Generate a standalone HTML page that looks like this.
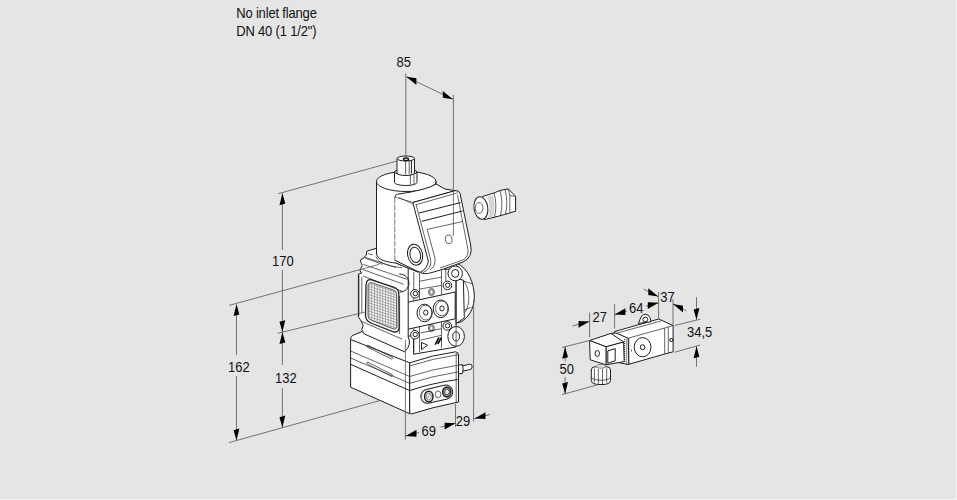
<!DOCTYPE html>
<html><head><meta charset="utf-8">
<style>
html,body{margin:0;padding:0;background:#e5e5e5;width:957px;height:500px;overflow:hidden}
svg{display:block}
text{font-family:"Liberation Sans",sans-serif;font-size:13px;fill:#111}
.o{fill:#fff;stroke:#1e1e1e;stroke-width:1;stroke-linejoin:round}
.w{fill:#fff;stroke:none}
.l{fill:none;stroke:#222;stroke-width:.7}
.t{fill:none;stroke:#1e1e1e;stroke-width:1}
.d{fill:none;stroke:#555;stroke-width:.8}
.a{fill:#000;stroke:none}
</style></head><body>
<svg width="957" height="500" viewBox="0 0 957 500">
<defs>
<pattern id="mesh" width="2.75" height="2.75" patternUnits="userSpaceOnUse" patternTransform="skewY(17) rotate(0)">
<rect width="2.75" height="2.75" fill="#f4f4f4"/>
<path d="M0,0H2.75M0,0V2.75" stroke="#6a6a6a" stroke-width="1"/>
</pattern>
</defs>
<text transform="translate(236.2,17.7) scale(1,1.1)" letter-spacing="-0.17">No inlet flange</text>
<text transform="translate(236.2,35.7) scale(1,1.1)" letter-spacing="-0.17">DN 40 (1 1/2")</text>
<rect x="956" y="0" width="1" height="500" fill="#f2f2f2"/>
<rect x="0" y="499" width="957" height="1" fill="#f2f2f2"/>
<g id="main">
<!-- round side body -->
<path class="o" d="M456,263 C468,267 474.5,284 474.3,297 C474,309 469,317 461,322 L456,323 Z"/>
<path class="l" d="M463.4,280.2 C469.5,288 471,302 465.2,312.6"/>

<!-- base box -->
<path class="w" d="M350.6,339.5 Q350.6,335.5 355,334.5 L400,321 L458.5,329 L458.5,354 Q458,351.5 455.5,351.8 Q432,355 409.7,362.8 Z"/>
<path class="t" d="M350.6,339.5 Q350.6,335.5 355,334.5 L362,331.5"/>
<path class="o" d="M350.6,339.5 L409.7,362.8 L409.7,413.7 L350.6,387.2 Z"/>
<path class="o" d="M409.7,362.8 Q432,355 455.5,351.8 Q458.5,352 458.5,355 L458.5,402 Q433,407 411.5,413.9 Q409.7,414 409.7,412 Z"/>
<path class="l" d="M350.6,351 L409.7,376.5 M350.6,358 L409.7,383.3 M409.7,366 Q432,358.5 457.75,354.75 M409.7,376.5 Q432,369 457.75,365.25 M409.7,383.3 Q432,376 457.75,372"/>
<path class="t" d="M350.6,364.3 L409.7,390.6 Q432,383 457.75,379.5"/>
<path class="l" d="M367.4,345 L391.9,357 Q393.5,358.5 391.9,359.2 L367.4,347.2 Q366,346 367.4,345 Z M367.4,362 L391.9,374.4 Q393.5,375.9 391.9,376.6 L367.4,364.2 Q366,363 367.4,362 Z"/>
<path class="l" d="M456.2,353 V402.5"/>
<!-- connector port -->
<rect class="o" x="420.6" y="387.2" width="32.4" height="14" rx="7" transform="rotate(-13 436.8 394.2)" stroke-width="1.1"/>
<path d="M425.5,389.5 Q420.5,392 421.3,398 Q422,402 425,403" fill="none" stroke="#777" stroke-width="1.4"/>
<ellipse cx="428.8" cy="396.5" rx="4.2" ry="5.3" fill="#fff" stroke="#222" stroke-width="1.5"/>
<ellipse cx="428.8" cy="396.5" rx="2.6" ry="3.5" fill="none" stroke="#666" stroke-width=".8"/>
<path d="M427.5,398.5 L429.8,394" stroke="#666" stroke-width=".7"/>
<ellipse class="l" cx="438.1" cy="394.4" rx="2.8" ry="3.4" stroke-width=".9"/>
<ellipse cx="446.8" cy="392" rx="4.2" ry="5" fill="#888" stroke="#222" stroke-width="1.4"/>
<ellipse cx="447" cy="392" rx="2.2" ry="2.8" fill="#eee" stroke="#333" stroke-width=".7"/>
<!-- pipe -->
<path class="o" d="M460,366.5 L469.5,364.2 Q472.5,364.2 472.2,367 Q472,369.6 469.5,369.6 L460,371.8 Z"/>
<path class="o" d="M458.5,365.2 L462.5,364.6 Q463.8,369 462.5,373.4 L458.5,374 Z"/>

<!-- valve body front -->
<path class="o" d="M398,268 L445,268.6 L456,263 L456,347 L413.6,354.2 L413.6,336 L398,336 Z"/>
<path class="l" d="M413.8,272V352 M419.5,273V352 M441.5,268V348 M445.8,268V286"/>
<path class="l" d="M419.8,281.2L441.8,277 M419.8,289L441.8,285.4 M420.4,333L441.3,328.7 M420.4,340.2L441.3,335.3"/>
<!-- flange plate -->
<path class="o" d="M456.2,278.4 L463.4,280.2 L464.3,318 L456.2,323.4 Z"/>
<path class="l" d="M463.4,281 L472.8,284 M464.3,310 L471.5,307.2"/>
<!-- middle plate -->
<path class="o" d="M405.4,302.8 L455.2,292 L455.2,318.8 L405.4,329.8 Z"/>
<ellipse class="l" cx="431.5" cy="292" rx="3" ry="3.6" stroke="#777" stroke-width=".6"/>
<ellipse class="l" cx="431.5" cy="292" rx="1.8" ry="2.3" stroke="#777" stroke-width=".6"/>
<ellipse class="l" cx="431.4" cy="328.1" rx="3" ry="3.6" stroke="#777" stroke-width=".6"/>
<ellipse class="l" cx="431.4" cy="328.1" rx="1.8" ry="2.3" stroke="#777" stroke-width=".6"/>
<!-- buttons -->
<ellipse class="o" cx="424.6" cy="313" rx="7.6" ry="8.8"/>
<ellipse class="l" cx="425.6" cy="312.6" rx="6.2" ry="7.4"/>
<ellipse class="t" cx="425.8" cy="312.6" rx="2.2" ry="2.5"/>
<ellipse class="o" cx="440.8" cy="308.8" rx="7.6" ry="8.8"/>
<ellipse class="l" cx="441.8" cy="308.4" rx="6.2" ry="7.4"/>
<ellipse class="t" cx="442" cy="308.4" rx="2.2" ry="2.5"/>
<!-- screws -->
<circle class="o" cx="415" cy="293.8" r="4.3" stroke-width="1.3"/><circle class="t" cx="415.3" cy="293.6" r="2.2"/>
<circle class="o" cx="447.4" cy="285.4" r="4.3" stroke-width="1.3"/><circle class="t" cx="447.7" cy="285.2" r="2.2"/>
<circle class="o" cx="414.9" cy="334.7" r="4.3" stroke-width="1.3"/><circle class="t" cx="415.2" cy="334.5" r="2.2"/>
<circle class="o" cx="447.3" cy="325.9" r="4.3" stroke-width="1.3"/><circle class="t" cx="447.6" cy="325.7" r="2.2"/>
<path class="t" d="M421.5,342.4 L427.5,345.2 L421.5,349.6 Z"/>
<path d="M435.2,344.6 L439,337.5 M437.8,344 L441.5,337.5" stroke="#111" stroke-width="1.7"/>
<!-- lugs -->
<path class="o" d="M444.5,269.5 L450.5,263.8 L456,263.5 L458,268 Z"/>
<ellipse class="o" cx="455.2" cy="273.4" rx="7.2" ry="7.4"/>
<ellipse class="t" cx="455.2" cy="273.4" rx="3.6" ry="3.9"/>
<ellipse class="o" cx="456.1" cy="336.4" rx="8.3" ry="9.9" stroke-width="1.2"/>
<ellipse class="t" cx="456.1" cy="336.4" rx="3.4" ry="4.5"/>
<path class="l" d="M456.1,326.5V346.3"/>

<!-- filter block -->
<path class="o" d="M366.8,251.2 L376,248.4 L396,263 L408.2,268 L408.2,337 Q412,345 404.6,351.8 L364,333.8 L361.8,329.6 L363.2,325.4 L360.4,319.8 L358.4,317 L358.4,274 L361.6,273.2 L360,270.8 L360.8,268.4 L362.4,265.6 L361.6,263.6 L360.4,261.2 L360.8,259.6 L364.4,257.6 L364.4,256.8 L366.4,255.2 Z"/>
<path class="l" d="M368,253.6 L372.8,254.8 M364.8,258 L382.4,264.4"/>
<path class="l" d="M363.6,264.5L407,279.3 M362.5,269.4L403.7,284.3 M363,276L402.6,291.4 M365.2,257.3L396,267.5 M361.8,277V313 M359,275V316 M399.6,296V334 M361,321.2L402.2,339.2"/>
<path class="t" d="M399.2,274 C405.5,274 409.2,278.5 408.9,283.6 C408.6,288.5 405,292 399.8,292"/>
<path d="M372,282.8 L393,289.8 Q396.6,291 396.6,294.5 L397,326 Q397,329.8 393.5,329 L372,320.5 Q368,319 368,315.5 L368,286.5 Q368,281.8 372,282.8 Z" fill="url(#mesh)" stroke="#333" stroke-width=".8"/>
<path d="M371.5,279.8 L393.5,287 Q398.8,288.8 398.8,294 L399.2,326.5 Q399.2,333 393.5,331.8 L372,323.5 Q365.5,321 365.5,315.5 L366,285.5 Q366,278.8 371.5,279.8 Z" fill="none" stroke="#222" stroke-width="1.3"/>
<!-- actuator cylinder -->
<path class="o" d="M376.5,181.5 L376.5,254 C378,260 386,262 396,263 L418,272.2 L436,266 L436,181.5 Z"/>
<ellipse class="o" cx="406.2" cy="181.5" rx="29.75" ry="10"/>
<path class="l" d="M375.8,256.4 C379,264 390,266.5 402,267.6"/>
<!-- knob -->
<path class="o" d="M394.5,172 V182.5 A11.25,3 0 0 0 417,182.5 V172 Z"/>
<ellipse class="o" cx="405.75" cy="172" rx="11.25" ry="2.8"/>
<path class="o" d="M397,158.5 V173 A8.75,2.5 0 0 0 414.5,173 V158.5 Z"/>
<ellipse class="o" cx="405.75" cy="158.5" rx="8.75" ry="2.5"/>
<ellipse cx="406" cy="159.2" rx="2.6" ry="1.2" fill="#fff" stroke="#111" stroke-width="1.3"/>
<path class="l" d="M405.6,160.5V174.8 M409.2,160.5V174 M410.4,174.5V184.5 M414,174.5V184"/><path d="M411.4,160.5V173.5" stroke="#222" stroke-width="1" fill="none"/>

<!-- housing -->
<path class="o" d="M397.5,194.2 Q395,194.8 394.8,197.5 L412.8,202.5 L455,190.7 L445,189 L436,184 Q427,190 397.5,194.2 Z"/>
<path class="w" d="M394.8,197.5 L412.8,202.5 L428.3,262 Q429,270 424,273.5 L417.3,271.2 L394.8,260.2 Z"/>
<path d="M394.8,197.5 V260.2" stroke="#666" stroke-width=".9" stroke-dasharray="6 1.2" fill="none"/>
<path class="t" d="M394.8,260.2 L417.3,271.2 L424,273.5"/>
<path class="l" d="M398.4,197.2 L412.8,203.8"/>
<ellipse class="o" cx="415.1" cy="254.7" rx="7.4" ry="10.6" transform="rotate(-12 415.1 254.7)" stroke-width="1.2"/>
<ellipse class="t" cx="415.3" cy="254.9" rx="5.2" ry="7.8" transform="rotate(-12 415.3 254.9)"/>
<path class="o" d="M412.8,202.5 L455,190.7 Q459,190.2 460,193.2 L470.8,246 Q473,257 463,262 L443.7,269 L432,272.5 Q424,275 420.5,272.3 Q428,268 428.3,261 Z"/>
<path class="l" d="M415.8,204.8 L457.8,192.8 M416,204.5 L430.5,259 Q432.5,269 423,272.5"/>
<path class="t" d="M418.8,213.1 L460.5,202.6 M421.8,221.3 L462.5,211"/>
<path class="l" d="M427.2,229.4 L462.8,221.5 M427.2,229.4 L434.9,258 Q436,266 430,270 M457.5,195 L467.9,249.2 Q469,257 462.4,260.2 L440,268"/>
<ellipse class="l" cx="448.7" cy="239.3" rx="3.3" ry="4.4" transform="rotate(-10 448.7 239.3)" stroke-width=".9"/>

<!-- cable gland -->
<path class="o" d="M482.5,196.5 L494,193 L500,190.5 L508.2,188.8 L515.6,196.4 L515.6,211.2 L500,215.8 L494,217.3 L484.2,219.6 Z"/>
<path d="M487.5,196.8 L492.8,195.2 Q496,205.5 493.2,216.6 L488,218 Q491,207 487.5,196.8 Z" fill="#d4d4d4"/>
<path class="l" d="M494,193 Q497.5,205 494.5,217.2 M500,190.5 Q503.5,203 500.5,215.6 M505,189.6 Q508.3,202 505.5,214.2 M508.2,188.8 L509.8,195.5 L509.8,212.6 M509.8,195.5 L515.6,196.4"/>
<ellipse class="o" cx="480.9" cy="208" rx="6.9" ry="11.4" transform="rotate(-8 480.9 208)"/>
<ellipse class="l" cx="479.1" cy="208" rx="3.9" ry="5.4"/>
</g>

<g id="small">
<!-- coil housing -->
<path class="o" d="M614.4,331.6 L658.8,319 L673.1,325.6 L673.1,351.8 L664.7,354 L628.8,364.3 L612,361 Z"/>
<path class="l" d="M616,333.4 L661,321 M628.2,338.2 L664.7,328 L673.1,325.6 M664.7,328V354 M668.3,327V353 M628.8,338.2V364.3"/>
<ellipse class="t" cx="642.6" cy="347.2" rx="8.4" ry="9.6"/>
<ellipse class="t" cx="642.6" cy="347.2" rx="2.3" ry="2.5"/>
<circle class="t" cx="671.3" cy="340" r="1.6"/>
<path class="l" d="M631.5,349.5 L631.5,351.5"/>
<!-- lug -->
<path class="o" d="M638.4,323.4 L641,317 A4.8,4.8 0 0 1 649.9,317.6 L651,321.8 Z"/>
<circle class="t" cx="645.3" cy="319.5" r="2.4"/>
<!-- flange ridges -->
<path class="o" d="M611,333.4 L616,333 L628.2,338.2 L628.8,364.3 L625.5,364 L612,361 Z"/>
<path d="M624.6,339V362.5" stroke="#222" stroke-width="1.1" stroke-dasharray="1.1 .9" fill="none"/>
<path d="M626.7,338.6V363.5" stroke="#555" stroke-width=".7" fill="none"/>
<!-- connector box -->
<path class="o" d="M589.6,340.5 L611,333.4 L623.6,342 L606,346.8 Z"/>
<path class="o" d="M606,346.8 L623.6,342 L624.2,361.6 L606,364.8 Z"/>
<path class="o" d="M589.6,340.5 L606,346.8 L606,364.8 L590.2,359.8 Z"/>
<path class="t" d="M607.8,350.8 L615.2,348.6 L615.2,360.9 L607.8,363.2 Z"/>
<ellipse class="t" cx="597.3" cy="353.5" rx="2.2" ry="3"/>
<!-- gland nut -->
<path class="o" d="M591.3,370 Q591.3,367 595,366.8 L607,366.8 Q610.5,367 610.5,370 L610.5,380.5 Q610.5,384.6 601,384.6 Q591.3,384.6 591.3,380.5 Z"/>
<path class="l" d="M594.4,368.5V382.5 M598.3,369V384 M602.5,369V384 M606.7,368.5V382.5 M591.5,378.5 Q601,382 610.3,378.5"/>
<ellipse cx="601" cy="366.3" rx="4.7" ry="2" fill="#ddd" stroke="#444" stroke-width=".6"/>
</g>

<path class="d" d="M405.8,73.4V157 M453.4,95V236 M405.8,76.6L453.4,99.4 M278.2,193.7L397,161 M282.4,193.5V250 M282.4,270V332.1 M277.6,333.3L366,311.8 M229,305.4L379,264.4 M229,442.6L380,400.5 M236.5,304.5V355 M236.5,376V440.3 M282.4,332.1V365 M282.4,388V427.5 M405.4,340V439.5 M455.5,404V427 M473.6,300V421.5 M405.6,436L419,432.6 M440.5,427.1L455.5,423.3 M473.6,418.7L490,414.5 M589.6,312.6V337.2 M614.6,304.2V328.8 M658.6,292V319 M673,299V326 M572.4,326L589.4,321.4 M614.6,314.6L627,311.3 M646,306.2L658.6,302.8 M643.6,289.2L658.3,296.6 M673,304L686.4,310.8 M674.75,325.5L700.25,319.2 M674.75,352.2L700.25,345 M696.5,297V319.5 M696.5,346.5V366.75 M561.9,347.5L589.6,340.5 M561.9,394.7L598.3,384.6 M565.1,346.7V361.5 M565.1,377V393.8"/>
<path class="a" d="M406.30,76.80L416.40,78.25L416.40,85.05ZM452.90,99.20L442.80,90.95L442.80,97.75ZM282.40,193.30L279.50,205.18L285.30,203.62ZM282.40,332.10L279.50,321.78L285.30,320.22ZM236.50,304.20L233.60,316.08L239.40,314.52ZM236.50,440.50L233.60,430.18L239.40,428.62ZM282.40,332.10L279.50,343.98L285.30,342.42ZM282.40,427.50L279.50,417.18L285.30,415.62ZM405.60,436.00L416.45,429.84L416.45,436.64ZM455.50,423.30L444.65,422.66L444.65,429.46ZM474.60,418.50L485.44,412.28L485.44,419.08ZM589.40,321.40L578.59,320.93L578.59,327.73ZM614.60,314.60L625.41,308.25L625.41,315.05ZM658.60,302.80L647.78,302.31L647.78,309.11ZM658.30,296.60L648.30,288.16L648.30,294.96ZM673.00,304.00L682.99,305.67L682.99,312.47ZM696.50,319.80L693.60,309.45L699.40,307.95ZM696.50,346.30L693.60,358.15L699.40,356.65ZM565.10,346.80L562.20,358.65L568.00,357.15ZM565.10,393.80L562.20,383.45L568.00,381.95Z"/>
<text transform="translate(396.6,66.8) scale(1,1.1)">85</text>
<text transform="translate(272,266) scale(1,1.1)">170</text>
<text transform="translate(228,371.5) scale(1,1.1)">162</text>
<text transform="translate(275,383.4) scale(1,1.1)">132</text>
<text transform="translate(421.5,436) scale(1,1.1)">69</text>
<text transform="translate(455.8,425.7) scale(1,1.1)">29</text>
<text transform="translate(592.6,321.6) scale(1,1.1)">27</text>
<text transform="translate(629,312.6) scale(1,1.1)">64</text>
<text transform="translate(660.3,301.8) scale(1,1.1)">37</text>
<text transform="translate(687,336.75) scale(1,1.1)">34,5</text>
<text transform="translate(559.4,374) scale(1,1.1)">50</text>
</svg>
</body></html>
